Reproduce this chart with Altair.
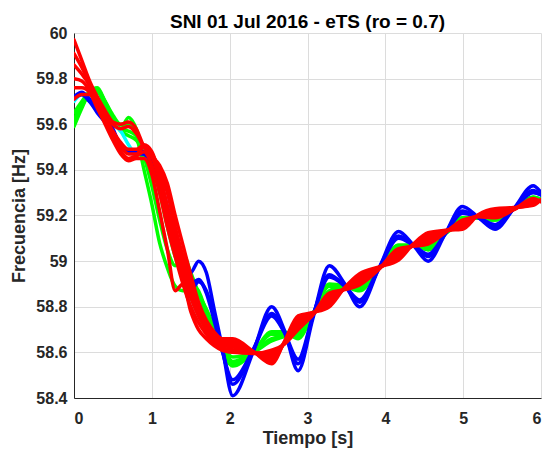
import altair as alt
import pandas as pd

# time keypoints (s)
T = [0.0, 0.1, 0.2, 0.3, 0.4, 0.5, 0.6, 0.7, 0.8, 0.9,
     1.0, 1.1, 1.2, 1.3, 1.4, 1.5, 1.6, 1.7, 1.8, 1.9,
     2.04, 2.3, 2.54, 2.7, 2.88, 3.07, 3.28, 3.48, 3.67, 3.92,
     4.17, 4.36, 4.55, 4.77, 4.99, 5.2, 5.41, 5.65, 5.9, 6.0]

# blue traces (Hz)
B1 = [59.72, 59.74, 59.71, 59.66, 59.62, 59.58, 59.50, 59.48, 59.48, 59.48,
      59.44, 59.36, 59.24, 59.10, 58.98, 58.95, 59.00, 58.95, 58.79, 58.63,
      58.41, 58.60, 58.80, 58.70, 58.52, 58.75, 58.98, 58.90, 58.80, 58.97,
      59.13, 59.07, 59.00, 59.12, 59.24, 59.19, 59.14, 59.23, 59.33, 59.30]
B2 = [59.72, 59.73, 59.70, 59.66, 59.61, 59.56, 59.50, 59.48, 59.48, 59.47,
      59.43, 59.34, 59.20, 59.05, 58.92, 58.87, 58.91, 58.87, 58.76, 58.62,
      58.46, 58.61, 58.77, 58.69, 58.55, 58.76, 58.94, 58.89, 58.82, 58.97,
      59.11, 59.07, 59.02, 59.12, 59.22, 59.19, 59.15, 59.23, 59.31, 59.29]
B3 = [59.71, 59.73, 59.70, 59.65, 59.61, 59.57, 59.51, 59.48, 59.47, 59.47,
      59.43, 59.35, 59.22, 59.08, 58.95, 58.90, 58.92, 58.86, 58.74, 58.61,
      58.48, 58.61, 58.76, 58.69, 58.57, 58.76, 58.93, 58.89, 58.83, 58.97,
      59.10, 59.07, 59.03, 59.12, 59.21, 59.19, 59.16, 59.23, 59.30, 59.29]

# green traces (Hz)
G1 = [59.59, 59.67, 59.74, 59.76, 59.70, 59.64, 59.60, 59.60, 59.55, 59.40,
      59.25, 59.08, 58.97, 58.89, 58.87, 58.88, 58.85, 58.79, 58.71, 58.62,
      58.55, 58.60, 58.68, 58.68, 58.67, 58.77, 58.89, 58.89, 58.88, 58.97,
      59.07, 59.07, 59.05, 59.12, 59.19, 59.19, 59.18, 59.23, 59.28, 59.27]
G2 = [59.65, 59.70, 59.74, 59.75, 59.70, 59.63, 59.58, 59.63, 59.58, 59.46,
      59.33, 59.18, 59.05, 58.98, 59.03, 58.95, 58.86, 58.78, 58.69, 58.61,
      58.54, 58.60, 58.69, 58.69, 58.66, 58.77, 58.90, 58.89, 58.87, 58.97,
      59.07, 59.07, 59.05, 59.12, 59.19, 59.19, 59.18, 59.23, 59.28, 59.27]
G3 = [59.62, 59.69, 59.74, 59.74, 59.68, 59.62, 59.57, 59.55, 59.53, 59.48,
      59.42, 59.30, 59.15, 59.02, 58.93, 58.90, 58.87, 58.78, 58.70, 58.63,
      58.56, 58.60, 58.66, 58.67, 58.68, 58.77, 58.87, 58.89, 58.89, 58.97,
      59.06, 59.07, 59.06, 59.12, 59.18, 59.19, 59.19, 59.23, 59.28, 59.27]
G4 = [59.60, 59.68, 59.73, 59.75, 59.69, 59.63, 59.58, 59.57, 59.55, 59.50,
      59.45, 59.36, 59.22, 59.05, 58.92, 58.86, 58.82, 58.76, 58.69, 58.63,
      58.58, 58.60, 58.65, 58.67, 58.69, 58.77, 58.86, 58.89, 58.90, 58.97,
      59.05, 59.07, 59.07, 59.12, 59.17, 59.19, 59.19, 59.23, 59.27, 59.27]

# cyan trace (Hz)
C1 = [59.70, 59.73, 59.72, 59.67, 59.63, 59.60, 59.57, 59.51, 59.47, 59.50,
      59.46, 59.35, 59.20, 59.06, 58.94, 58.84, 58.76, 58.70, 58.65, 58.63,
      58.624, 58.599, 58.586, 58.639, 58.724, 58.769, 58.836, 58.879, 58.915, 58.969,
      59.035, 59.069, 59.095, 59.129, 59.164, 59.199, 59.206, 59.229, 59.263, 59.264]

# red traces (Hz)
R1 = [59.97, 59.88, 59.79, 59.72, 59.66, 59.61, 59.60, 59.61, 59.58, 59.50,
      59.46, 59.42, 59.34, 59.20, 59.07, 58.94, 58.82, 58.74, 58.69, 58.66,
      58.66, 58.605, 58.55, 58.645, 58.76, 58.775, 58.80, 58.885, 58.945, 58.975,
      59.005, 59.075, 59.125, 59.135, 59.14, 59.205, 59.23, 59.235, 59.245, 59.27]
R2 = [59.91, 59.85, 59.78, 59.71, 59.65, 59.60, 59.58, 59.59, 59.56, 59.50,
      59.47, 59.40, 59.30, 59.15, 59.02, 58.90, 58.79, 58.72, 58.67, 58.65,
      58.648, 58.603, 58.562, 58.643, 58.748, 58.773, 58.812, 58.883, 58.935, 58.973,
      59.015, 59.073, 59.115, 59.133, 59.148, 59.203, 59.222, 59.233, 59.251, 59.268]
R3 = [59.86, 59.82, 59.77, 59.70, 59.63, 59.57, 59.52, 59.49, 59.49, 59.51,
      59.48, 59.38, 59.24, 59.10, 58.98, 58.87, 58.78, 58.71, 58.66, 58.64,
      58.636, 58.601, 58.574, 58.641, 58.736, 58.771, 58.824, 58.881, 58.925, 58.971,
      59.025, 59.071, 59.105, 59.131, 59.156, 59.201, 59.214, 59.231, 59.257, 59.266]
R4 = [59.80, 59.79, 59.75, 59.69, 59.62, 59.55, 59.50, 59.47, 59.47, 59.50,
      59.46, 59.35, 59.20, 59.06, 58.94, 58.84, 58.76, 58.70, 58.65, 58.63,
      58.624, 58.599, 58.586, 58.639, 58.724, 58.769, 58.836, 58.879, 58.915, 58.969,
      59.035, 59.069, 59.095, 59.129, 59.164, 59.199, 59.206, 59.229, 59.263, 59.264]
R5 = [59.76, 59.76, 59.74, 59.68, 59.61, 59.54, 59.48, 59.45, 59.46, 59.48,
      59.42, 59.30, 59.15, 59.02, 58.90, 58.80, 58.73, 58.68, 58.64, 58.62,
      58.612, 58.597, 58.598, 58.637, 58.712, 58.767, 58.848, 58.877, 58.905, 58.967,
      59.045, 59.067, 59.085, 59.127, 59.172, 59.197, 59.198, 59.227, 59.269, 59.262]
R6 = [59.71, 59.73, 59.73, 59.67, 59.60, 59.53, 59.47, 59.44, 59.45, 59.45,
      59.38, 59.22, 59.05, 58.87, 58.90, 58.78, 58.70, 58.66, 58.63, 58.61,
      58.60, 58.595, 58.61, 58.635, 58.70, 58.765, 58.86, 58.875, 58.895, 58.965,
      59.055, 59.065, 59.075, 59.125, 59.18, 59.195, 59.19, 59.225, 59.275, 59.26]

X_TICKS = [0, 1, 2, 3, 4, 5, 6]
Y_TICKS = [58.4, 58.6, 58.8, 59.0, 59.2, 59.4, 59.6, 59.8, 60.0]

families = [
    ("green", "#00ff00", [("G1", G1), ("G2", G2), ("G3", G3), ("G4", G4)]),
    ("cyan", "#00ffff", [("C1", C1)]),
    ("blue", "#0000ff", [("B1", B1), ("B2", B2), ("B3", B3)]),
    ("red", "#ff0000", [("R1", R1), ("R2", R2), ("R3", R3), ("R4", R4), ("R5", R5), ("R6", R6)]),
]

FONT = "Liberation Sans"

x_enc = alt.X("t:Q", scale=alt.Scale(domain=[0, 6], nice=False, zero=False),
              axis=alt.Axis(values=X_TICKS, format="d", title="Tiempo [s]",
                            labelPadding=12, titlePadding=3))
y_enc = alt.Y("f:Q", scale=alt.Scale(domain=[58.4, 60], nice=False, zero=False),
              axis=alt.Axis(values=Y_TICKS, format=".1~f", title="Frecuencia [Hz]",
                            labelPadding=7, titlePadding=7))

layers = []
for fam, color, traces in families:
    rows = []
    for name, vals in traces:
        for t, v in zip(T, vals):
            rows.append({"t": t, "f": v, "trace": name})
    df = pd.DataFrame(rows)
    layers.append(
        alt.Chart(df).mark_line(interpolate="monotone", strokeWidth=3.5, color=color,
                                clip=True, strokeCap="round", strokeJoin="round")
        .encode(x=x_enc, y=y_enc, detail="trace:N")
    )

chart = alt.layer(*layers).properties(
    width=467, height=365,
    title=alt.TitleParams("SNI 01 Jul 2016 - eTS (ro = 0.7)", fontSize=19,
                          fontWeight="bold", font=FONT, color="#000000",
                          anchor="middle", baseline="alphabetic", offset=0, dy=22),
    autosize=alt.AutoSizeParams(type="none"),
    padding={"left": 74, "top": 33, "right": 5, "bottom": 57},
).configure_view(stroke=None).configure_axis(
    labelFont=FONT, labelFontWeight="bold", labelFontSize=16, labelColor="#262626",
    titleFont=FONT, titleFontWeight="bold", titleFontSize=18, titleColor="#262626",
    domainColor="#262626", domainWidth=1, gridColor="#dcdcdc", gridWidth=1,
    ticks=False,
)

chart.save("out.html", embed_options={"renderer": "svg", "actions": False})
